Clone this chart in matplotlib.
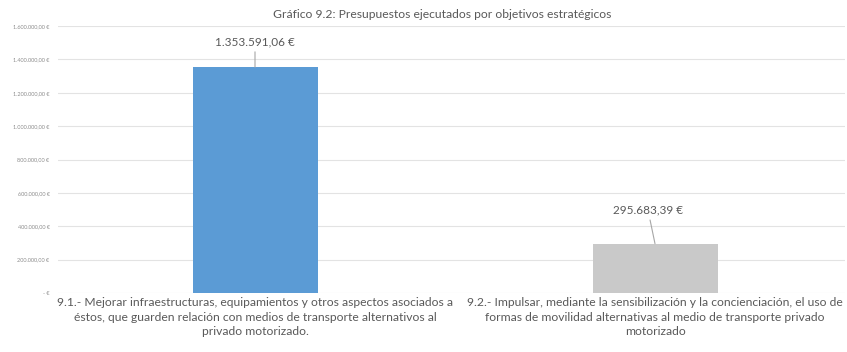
import numpy as np
import matplotlib.pyplot as plt
from matplotlib.ticker import FuncFormatter

# ------------------------------------------------------------
# Data
# ------------------------------------------------------------
categories = [
    "9.1.- Mejorar infraestructuras, equipamientos y otros aspectos asociados a\n"
    "éstos, que guarden relación con medios de transporte alternativos al\n"
    "privado motorizado.",
    "9.2.- Impulsar, mediante la sensibilización y la concienciación, el uso de\n"
    "formas de movilidad alternativas al medio de transporte privado\n"
    "motorizado",
]
values = [1353591.06, 295683.39]
value_labels = ["1.353.591,06 €", "295.683,39 €"]
bar_colors = ["#5B9BD5", "#C9C9C9"]
title = "Gráfico 9.2: Presupuestos ejecutados por objetivos estratégicos"

plt.rcParams["font.family"] = ["Lato", "DejaVu Sans"]
text_color = "#595959"


def euro_fmt(v, pos):
    if v == 0:
        return "- €"
    s = f"{v:,.2f}"
    s = s.replace(",", "X").replace(".", ",").replace("X", ".")
    return s + " €"


fig = plt.figure(figsize=(8.47, 3.52), dpi=100)
ax = fig.add_axes([58 / 847, 59 / 352, 787 / 847, 267 / 352])

x = np.arange(len(categories))
ax.bar(x, values, width=0.3125, color=bar_colors, zorder=3)

ax.set_xlim(-0.4925, 1.475)
ax.set_ylim(0, 1600000)
ax.set_yticks(np.arange(0, 1600001, 200000))
ax.yaxis.set_major_formatter(FuncFormatter(euro_fmt))
ax.tick_params(axis="y", labelsize=4, colors="#8c8c8c", length=0, pad=6)
ax.grid(axis="y", color="#E3E3E3", linewidth=0.8, zorder=0)
for sp in ax.spines.values():
    sp.set_visible(False)

ax.set_xticks(x)
ax.set_xticklabels(categories, fontsize=8.75, color=text_color, linespacing=1.4)
ax.tick_params(axis="x", length=0, pad=3)

# value labels with leader lines
offsets = [(0, 14), (-5, 20)]
for xi, v, lab, off in zip(x, values, value_labels, offsets):
    ax.annotate(lab, xy=(xi, v), xytext=off, textcoords="offset points",
                ha="center", va="bottom", fontsize=8.5, color=text_color,
                arrowprops=dict(arrowstyle="-", color="#A6A6A6", lw=0.8,
                                shrinkA=1, shrinkB=0))

fig.text(442 / 847, 1 - 14 / 352, title, ha="center", va="center",
         fontsize=8.7, color=text_color)

fig.savefig("out.png", dpi=100)
